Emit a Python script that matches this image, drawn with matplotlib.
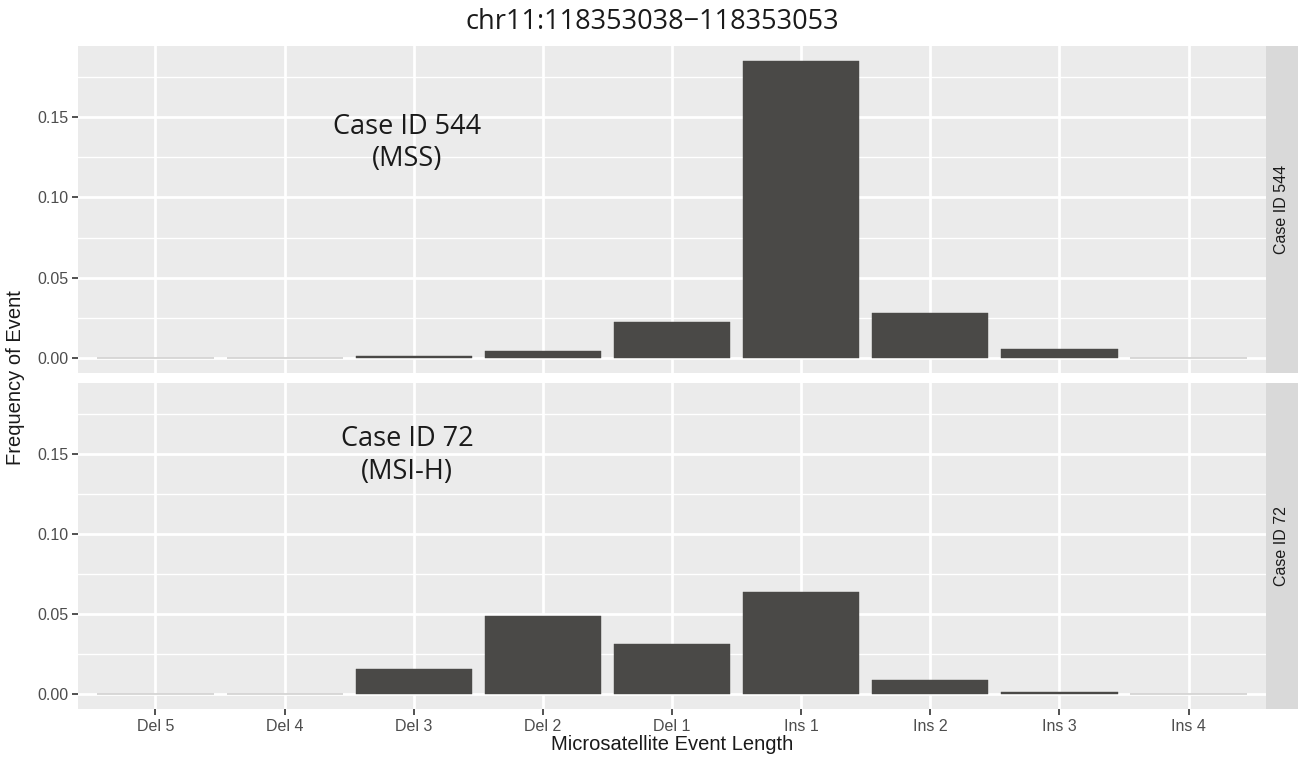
import numpy as np
import matplotlib.pyplot as plt

# microsatellite event frequencies per case
events = ['Del 5', 'Del 4', 'Del 3', 'Del 2', 'Del 1', 'Ins 1', 'Ins 2', 'Ins 3', 'Ins 4']
freq_544 = [0.0002, 0.0002, 0.0013, 0.0044, 0.0226, 0.185, 0.028, 0.0056, 0.0002]
freq_72 = [0.0002, 0.0002, 0.0157, 0.049, 0.0314, 0.064, 0.0088, 0.0013, 0.0002]
cases = ['Case ID 544', 'Case ID 72']
labels = ['Case ID 544\n(MSS)', 'Case ID 72\n(MSI-H)']
label_y = [0.134, 0.149]
yticks = [0.00, 0.05, 0.10, 0.15]

sans = ['Liberation Sans', 'DejaVu Sans']
myriad = ['Open Sans', 'DejaVu Sans']

fig = plt.figure(figsize=(13.03, 7.61), dpi=100)
W, H = 1303, 761

def fx(px):
    return px / W

def fy(py):
    return 1 - py / H

panels = [(46, 373), (383, 709)]
x = np.arange(1, len(events) + 1)
ymax = max(max(freq_544), max(freq_72))
ylim = (-0.05 * ymax, ymax * 1.05)

for i, (freq, case, lab, ly) in enumerate(zip([freq_544, freq_72], cases, labels, label_y)):
    top, bot = panels[i]
    ax = fig.add_axes([fx(78), fy(bot), fx(1266) - fx(78), fy(top) - fy(bot)])
    ax.set_facecolor('#EBEBEB')
    ax.bar(x, freq, width=0.9, color='#4A4947', edgecolor='#4A4947', linewidth=0.3, zorder=3)
    ax.set_xlim(0.4, len(events) + 0.6)
    ax.set_ylim(*ylim)
    # major / minor grid like ggplot
    ax.set_yticks(yticks)
    ax.set_yticks([0.025, 0.075, 0.125, 0.175], minor=True)
    ax.set_xticks(x)
    ax.grid(which='major', color='white', linewidth=2.0, zorder=1)
    ax.grid(which='minor', axis='y', color='white', linewidth=1.0, zorder=1)
    for s in ax.spines.values():
        s.set_visible(False)
    ax.tick_params(which='major', length=4, width=1.2, color='#333333', labelsize=11.5,
                   labelcolor='#4D4D4D', pad=3)
    ax.tick_params(which='minor', length=0)
    ax.set_yticklabels(['%.2f' % t for t in yticks], family=sans)
    if i == 0:
        ax.tick_params(axis='x', length=0, labelbottom=False)
    else:
        ax.set_xticklabels(events, family=sans)
    ax.text(2.95, ly, lab, ha='center', va='center', fontsize=19.5, family=myriad,
            color='#1A1A1A', linespacing=1.2, zorder=4)

    # facet strip on the right
    sax = fig.add_axes([fx(1266), fy(bot), fx(1298) - fx(1266), fy(top) - fy(bot)])
    sax.set_facecolor('#D9D9D9')
    sax.set_xticks([])
    sax.set_yticks([])
    for s in sax.spines.values():
        s.set_visible(False)
    sax.text(0.5, 0.5, case, rotation=90, ha='center', va='center', fontsize=11.5,
             family=sans, color='#1A1A1A', transform=sax.transAxes)

fig.text(fx(652), fy(22), 'chr11:118353038\u2212118353053', ha='center', va='center',
         fontsize=19.5, family=myriad, color='#1A1A1A')
fig.text(fx(16), fy(378), 'Frequency of Event', rotation=90, ha='center', va='center',
         fontsize=14.5, family=sans, color='#1A1A1A')
fig.text(fx(672), fy(745), 'Microsatellite Event Length', ha='center', va='center',
         fontsize=14.5, family=sans, color='#1A1A1A')

fig.savefig('out.png', dpi=100)
